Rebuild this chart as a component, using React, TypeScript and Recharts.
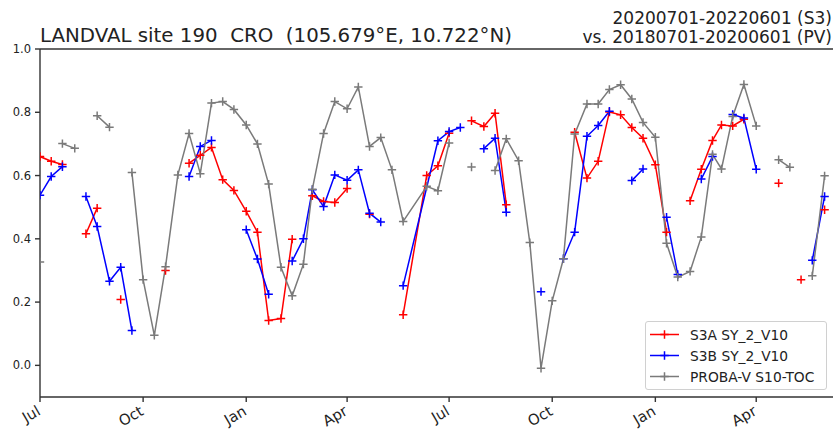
// NDVI comparison for one LANDVAL site: Sentinel-3 SY_2_V10 (S3A / S3B)
// over 2020-07..2022-06, with the PROBA-V S10-TOC record from two years
// earlier laid over the same calendar axis. Dekadal points, "+" markers;
// a null entry breaks the line, a missing dekad is simply bridged.
import { Legend, Line, LineChart, ReferenceLine, XAxis, YAxis } from "recharts";

type Row = [string, number | null];

const FONT = "'DejaVu Sans', 'Liberation Sans', sans-serif";

const S3A_COLOR = "#ff0000";
const S3B_COLOR = "#0000ff";
const PV_COLOR = "#7a7a7a";

const s3a: Row[] = [
  ["2020-07-01", 0.66], ["2020-07-11", 0.645], ["2020-07-21", 0.635], ["2020-08-01", null],
  ["2020-08-11", 0.416], ["2020-08-21", 0.497], ["2020-09-01", null], ["2020-09-11", 0.208],
  ["2020-09-21", null], ["2020-10-21", 0.3], ["2020-11-01", null], ["2020-11-11", 0.639],
  ["2020-11-21", 0.664], ["2020-12-01", 0.689], ["2020-12-11", 0.587], ["2020-12-21", 0.553],
  ["2021-01-01", 0.487], ["2021-01-11", 0.421], ["2021-01-21", 0.142], ["2021-02-01", 0.148],
  ["2021-02-11", 0.399], ["2021-02-21", null], ["2021-03-01", 0.536], ["2021-03-11", 0.518],
  ["2021-03-21", 0.515], ["2021-04-01", 0.559], ["2021-04-11", null], ["2021-04-21", 0.478],
  ["2021-05-01", null], ["2021-05-21", 0.16], ["2021-06-11", 0.6], ["2021-06-21", 0.631],
  ["2021-07-01", 0.734], ["2021-07-11", null], ["2021-07-21", 0.773], ["2021-08-01", 0.755],
  ["2021-08-11", 0.797], ["2021-08-21", 0.508], ["2021-09-01", null], ["2021-10-21", 0.737],
  ["2021-11-01", 0.592], ["2021-11-11", 0.645], ["2021-11-21", 0.801], ["2021-12-01", 0.792],
  ["2021-12-11", 0.752], ["2021-12-21", 0.718], ["2022-01-01", 0.634], ["2022-01-11", 0.421],
  ["2022-01-21", null], ["2022-02-01", 0.52], ["2022-02-11", 0.62], ["2022-02-21", 0.711],
  ["2022-03-01", 0.76], ["2022-03-11", 0.757], ["2022-03-21", 0.778], ["2022-04-01", null],
  ["2022-04-21", 0.576], ["2022-05-01", null], ["2022-05-11", 0.271], ["2022-05-21", null],
  ["2022-06-01", 0.492],
];

const s3b: Row[] = [
  ["2020-07-01", 0.538], ["2020-07-11", 0.597], ["2020-07-21", 0.628], ["2020-08-01", null],
  ["2020-08-11", 0.534], ["2020-08-21", 0.439], ["2020-09-01", 0.266], ["2020-09-11", 0.31],
  ["2020-09-21", 0.11], ["2020-10-01", null], ["2020-11-11", 0.597], ["2020-11-21", 0.692],
  ["2020-12-01", 0.711], ["2020-12-11", null], ["2021-01-01", 0.429], ["2021-01-11", 0.336],
  ["2021-01-21", 0.225], ["2021-02-01", null], ["2021-02-11", 0.33], ["2021-02-21", 0.4],
  ["2021-03-01", 0.555], ["2021-03-11", 0.502], ["2021-03-21", 0.602], ["2021-04-01", 0.585],
  ["2021-04-11", 0.618], ["2021-04-21", 0.481], ["2021-05-01", 0.453], ["2021-05-11", null],
  ["2021-05-21", 0.252], ["2021-06-21", 0.71], ["2021-07-01", 0.739], ["2021-07-11", 0.752],
  ["2021-07-21", null], ["2021-08-01", 0.685], ["2021-08-11", 0.718], ["2021-08-21", 0.484],
  ["2021-09-01", null], ["2021-09-21", 0.233], ["2021-10-01", null], ["2021-10-11", 0.337],
  ["2021-10-21", 0.421], ["2021-11-01", 0.724], ["2021-11-11", 0.758], ["2021-11-21", 0.803],
  ["2021-12-01", null], ["2021-12-11", 0.584], ["2021-12-21", 0.621], ["2022-01-01", null],
  ["2022-01-11", 0.468], ["2022-01-21", 0.287], ["2022-02-01", null], ["2022-02-11", 0.589],
  ["2022-02-21", 0.66], ["2022-03-01", null], ["2022-03-11", 0.793], ["2022-03-21", 0.782],
  ["2022-04-01", 0.62], ["2022-04-11", null], ["2022-05-21", 0.332], ["2022-06-01", 0.534],
];

// PROBA-V dates are the real acquisition dekads (2018-07..2020-06);
// they are shifted forward two years when plotted.
const proba: Row[] = [
  ["2018-07-01", 0.327], ["2018-07-11", null], ["2018-07-21", 0.701], ["2018-08-01", 0.686],
  ["2018-08-11", null], ["2018-08-21", 0.789], ["2018-09-01", 0.753], ["2018-09-11", null],
  ["2018-09-21", 0.61], ["2018-10-01", 0.271], ["2018-10-11", 0.095], ["2018-10-21", 0.312],
  ["2018-11-01", 0.602], ["2018-11-11", 0.733], ["2018-11-21", 0.606], ["2018-12-01", 0.829],
  ["2018-12-11", 0.834], ["2018-12-21", 0.809], ["2019-01-01", 0.76], ["2019-01-11", 0.7],
  ["2019-01-21", 0.573], ["2019-02-01", 0.31], ["2019-02-11", 0.22], ["2019-02-21", 0.32],
  ["2019-03-01", 0.557], ["2019-03-11", 0.733], ["2019-03-21", 0.834], ["2019-04-01", 0.811],
  ["2019-04-11", 0.88], ["2019-04-21", 0.692], ["2019-05-01", 0.72], ["2019-05-11", 0.618],
  ["2019-05-21", 0.455], ["2019-06-11", 0.566], ["2019-06-21", 0.552], ["2019-07-01", 0.703],
  ["2019-07-11", null], ["2019-07-21", 0.627], ["2019-08-01", null], ["2019-08-11", 0.616],
  ["2019-08-21", 0.716], ["2019-09-01", 0.647], ["2019-09-11", 0.388], ["2019-09-21", -0.009],
  ["2019-10-01", 0.204], ["2019-10-11", 0.337], ["2019-10-21", 0.731], ["2019-11-01", 0.826],
  ["2019-11-11", 0.826], ["2019-11-21", 0.872], ["2019-12-01", 0.887], ["2019-12-11", 0.842],
  ["2019-12-21", 0.768], ["2020-01-01", 0.721], ["2020-01-11", 0.386], ["2020-01-21", 0.279],
  ["2020-02-01", 0.297], ["2020-02-11", 0.406], ["2020-02-21", 0.667], ["2020-03-01", 0.621],
  ["2020-03-11", 0.787], ["2020-03-21", 0.888], ["2020-04-01", 0.757], ["2020-04-11", null],
  ["2020-04-21", 0.65], ["2020-05-01", 0.626], ["2020-05-11", null], ["2020-05-21", 0.283],
  ["2020-06-01", 0.599],
];

const tickDates = [
  "2020-07-01", "2020-10-01", "2021-01-01", "2021-04-01",
  "2021-07-01", "2021-10-01", "2022-01-01", "2022-04-01",
];
const tickLabels = ["Jul", "Oct", "Jan", "Apr", "Jul", "Oct", "Jan", "Apr"];
const yTicks = [0, 0.2, 0.4, 0.6, 0.8, 1.0];

const ORIGIN = Date.UTC(2020, 6, 1);
const DAY_MS = 86400000;
const X_END = 707.5; // axis runs a few days past the last dekad

function dayOffset(date: string, shiftYears = 0): number {
  const [y, m, d] = date.split("-").map(Number);
  return (Date.UTC(y + shiftYears, m - 1, d) - ORIGIN) / DAY_MS;
}

const toPoints = (rows: Row[], shiftYears = 0) =>
  rows.map(([date, v]) => ({ t: dayOffset(date, shiftYears), ndvi: v }));

const tickDays = tickDates.map((d) => dayOffset(d));

function plusPath(cx: number, cy: number, r: number) {
  return `M${cx - r},${cy}H${cx + r}M${cx},${cy - r}V${cy + r}`;
}

const plusDot = (color: string) => (props: any) => {
  const { cx, cy, index } = props;
  if (cx == null || cy == null || Number.isNaN(cy)) return <g key={`d${index}`} />;
  return (
    <path key={`d${index}`} d={plusPath(cx, cy, 4.2)} stroke={color} strokeWidth={1.5} fill="none" />
  );
};

// Month labels hang from the tick, rotated 30° and right-aligned on it.
function MonthTick({ x, y, payload }: any) {
  const i = tickDays.indexOf(payload.value);
  return (
    <g transform={`translate(${x + 1.5},${y + 10})`}>
      <text transform="rotate(-30)" textAnchor="end" fontFamily={FONT} fontSize={14.8} fill="#222">
        {tickLabels[i]}
      </text>
    </g>
  );
}

const legendItems = [
  { label: "S3A SY_2_V10", color: S3A_COLOR },
  { label: "S3B SY_2_V10", color: S3B_COLOR },
  { label: "PROBA-V S10-TOC", color: PV_COLOR },
];

function LegendBox() {
  return (
    <div
      style={{
        boxSizing: "border-box",
        width: 182,
        height: 69,
        border: "1px solid #d0d0d0",
        borderRadius: 3,
        background: "rgba(255,255,255,0.8)",
        padding: "2px 0 0 0",
        fontFamily: FONT,
        fontSize: 13.8,
        color: "#222",
      }}
    >
      {legendItems.map((it) => (
        <div key={it.label} style={{ display: "flex", alignItems: "center", height: 21 }}>
          <svg width={44} height={21} style={{ flex: "none" }}>
            <line x1={4} x2={33} y1={10.5} y2={10.5} stroke={it.color} strokeWidth={1.5} />
            <path d={plusPath(18.5, 10.5, 4.2)} stroke={it.color} strokeWidth={1.5} />
          </svg>
          <span style={{ whiteSpace: "nowrap" }}>{it.label}</span>
        </div>
      ))}
    </div>
  );
}

export default function App() {
  const series = [
    { key: "s3a", data: toPoints(s3a), color: S3A_COLOR },
    { key: "s3b", data: toPoints(s3b), color: S3B_COLOR },
    { key: "pv", data: toPoints(proba, 2), color: PV_COLOR },
  ];
  return (
    <div style={{ position: "absolute", left: 0, top: 0, width: 833, height: 430, background: "#fff", overflow: "hidden" }}>
      <LineChart width={833} height={430} margin={{ top: 49, right: 0, bottom: 0, left: 0 }}>
        <XAxis
          dataKey="t"
          type="number"
          domain={[0, X_END]}
          ticks={tickDays}
          interval={0}
          height={33}
          tickSize={5}
          stroke="#333"
          strokeWidth={1.4}
          tick={<MonthTick />}
          allowDataOverflow
        />
        <YAxis
          type="number"
          domain={[-0.1, 1.0]}
          ticks={yTicks}
          interval={0}
          width={40}
          tickSize={5}
          tickMargin={4}
          stroke="#333"
          strokeWidth={1.4}
          tickFormatter={(v: number) => v.toFixed(1)}
          tick={{ fontFamily: FONT, fontSize: 11.5, fill: "#222" }}
          allowDataOverflow
        />
        <ReferenceLine y={1.0} stroke="#333" strokeWidth={1.4} />
        {series.map((s) => (
          <Line
            key={s.key}
            data={s.data}
            dataKey="ndvi"
            type="linear"
            stroke={s.color}
            strokeWidth={1.5}
            dot={plusDot(s.color)}
            activeDot={false}
            connectNulls={false}
            isAnimationActive={false}
          />
        ))}
        <Legend
          layout="vertical"
          align="center"
          verticalAlign="middle"
          wrapperStyle={{ left: 645, top: 321, width: 182, height: 69 }}
          content={() => <LegendBox />}
        />
      </LineChart>
      <svg width={833} height={49} style={{ position: "absolute", left: 0, top: 0 }}>
        <text x={40} y={42} fontFamily={FONT} fontSize={19.8} fill="#222" style={{ whiteSpace: "pre" }}>
          {"LANDVAL site 190  CRO  (105.679°E, 10.722°N)"}
        </text>
        <text x={832} y={24} textAnchor="end" fontFamily={FONT} fontSize={17} fill="#222">
          20200701-20220601 (S3)
        </text>
        <text x={832} y={43} textAnchor="end" fontFamily={FONT} fontSize={17} fill="#222">
          vs. 20180701-20200601 (PV)
        </text>
      </svg>
    </div>
  );
}
